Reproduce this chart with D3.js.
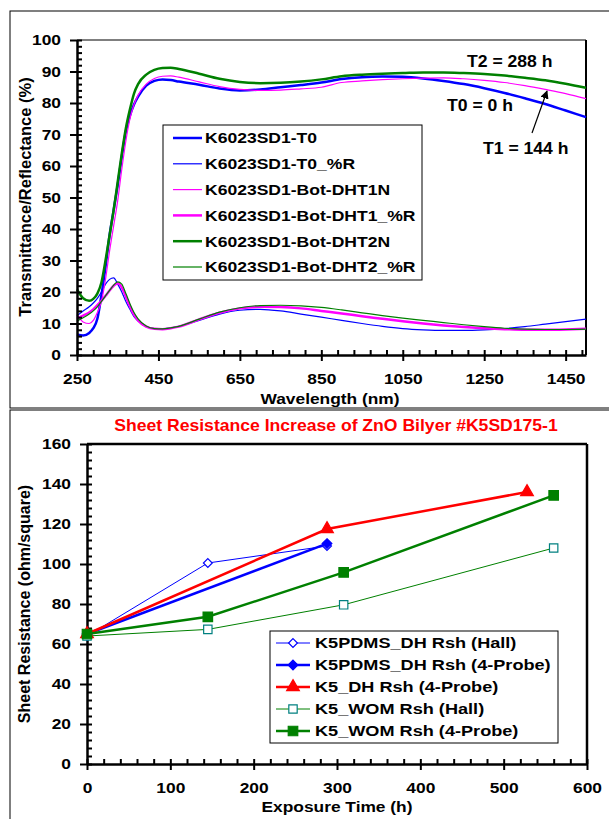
<!DOCTYPE html>
<html>
<head>
<meta charset="utf-8">
<script src="https://cdn.jsdelivr.net/npm/d3@7"></script>
<style>
  body { margin: 0; background: #fff; }
  text { font-family: "Liberation Sans", Arial, sans-serif; font-weight: bold; fill: #000; }
</style>
</head>
<body>
<div id="chart"></div>
<script>
// ---- top chart: spectra ----
const nm = [250, 265, 280, 290, 300, 310, 320, 330, 340, 350, 360, 370, 380, 390, 400, 420, 440, 460, 480, 500,
  550, 600, 650, 700, 750, 800, 850, 900, 950, 1000, 1050, 1100, 1150, 1200, 1250, 1300, 1350, 1400, 1450, 1500];
const t0T = [6.5, 6.2, 7, 8.5, 11.5, 19, 28, 38, 46, 54, 63, 71, 76, 79.5, 82, 85.5, 87, 87.5, 87.3, 86.8,
  85.8, 84.6, 84, 84.3, 85, 85.7, 86.5, 87.6, 88.2, 88.4, 88.3, 87.8, 87, 86, 84.7, 83.2, 81.5, 79.7, 77.6, 75.5];
const t0R = [12.5, 14, 15.3, 16.5, 18, 20, 22.5, 24, 24.5, 22.5, 20, 17, 14.5, 12.2, 10.8, 9, 8.4, 8.3, 8.6, 9.1,
  11, 13, 14.2, 14.5, 14, 13, 12, 11, 10, 9.1, 8.4, 8, 7.8, 7.8, 8, 8.4, 9, 9.8, 10.6, 11.4];
const dht1T = [12.8, 10.5, 10, 11, 13.5, 17, 24, 33, 41, 49, 59, 68, 75, 79.5, 82.5, 86, 87.8, 88.5, 88.6, 88.2,
  86.7, 85.2, 84.3, 84, 84.1, 84.5, 85, 86.5, 87, 87.4, 87.7, 87.9, 88, 87.7, 87.2, 86.5, 85.5, 84.3, 83, 81.4];
const dht1R = [11.5, 12.5, 13.5, 14.5, 15.8, 17.2, 18.8, 20.5, 22, 22.8, 21.5, 18.5, 15.5, 12.8, 11, 9, 8.3, 8.2, 8.5, 9,
  11.3, 13.4, 14.8, 15.3, 15.2, 14.8, 14, 13.2, 12.3, 11.5, 10.7, 10, 9.4, 8.9, 8.5, 8.2, 8, 8, 8.1, 8.3];
const dht2T = [20.8, 18, 17.2, 17.8, 19.5, 23, 30, 38, 46, 55, 64, 72, 78, 83, 86, 89, 90.5, 91.1, 91.2, 90.8,
  89.3, 87.7, 86.7, 86.3, 86.4, 86.8, 87.5, 88.5, 89, 89.3, 89.5, 89.7, 89.7, 89.5, 89.2, 88.7, 88, 87.2, 86.1, 84.8];
const dht2R = [10.8, 11.8, 13, 14, 15.3, 17, 18.8, 20.5, 22.2, 23.2, 22.5, 19.5, 16.3, 13.5, 11.5, 9.2, 8.4, 8.3, 8.6, 9.1,
  11.4, 13.6, 15, 15.7, 15.8, 15.6, 15.1, 14.3, 13.4, 12.5, 11.7, 11, 10.3, 9.6, 9, 8.5, 8.2, 8.1, 8.1, 8.2];
const specNames = ["K6023SD1-T0", "K6023SD1-T0_%R", "K6023SD1-Bot-DHT1N", "K6023SD1-Bot-DHT1_%R",
  "K6023SD1-Bot-DHT2N", "K6023SD1-Bot-DHT2_%R"];
const specValues = [t0T, t0R, dht1T, dht1R, dht2T, dht2R];
const specColors = ["#0000ff", "#0000ff", "#ff00ff", "#ff00ff", "#008000", "#008000"];
const specWidths = [2.5, 1.2, 1.2, 2.5, 2.5, 1.2];
const timeNotes = ["T2 = 288 h", "T0 = 0 h", "T1 = 144 h"];

// ---- bottom chart: sheet resistance ----
const rshNames = ["K5PDMS_DH Rsh (Hall)", "K5PDMS_DH Rsh (4-Probe)", "K5_DH Rsh (4-Probe)",
  "K5_WOM Rsh (Hall)", "K5_WOM Rsh (4-Probe)"];
const rshHours = [[0, 145, 288], [0, 288], [0, 288, 528], [0, 145, 308, 560], [0, 145, 308, 560]];
const rshValues = [[64, 100.5, 109], [65, 110.2], [65, 117.5, 136], [64, 67.3, 79.6, 108], [65, 73.6, 95.8, 134.3]];
const rshColors = ["#0000ff", "#0000ff", "#ff0000", "#008000", "#008000"];
const rshMarkStroke = ["#0000ff", "#0000ff", "#ff0000", "#008080", "#008000"];
const rshFill = ["#fff", "#0000ff", "#ff0000", "#fff", "#008000"];
const rshShapes = [d3.symbolDiamond2, d3.symbolDiamond2, d3.symbolTriangle, d3.symbolSquare, d3.symbolSquare];
const rshWidths = [1, 2.5, 2.5, 1, 2.5];
const rshTitle = "Sheet Resistance Increase of ZnO Bilyer #K5SD175-1";

const svg = d3.select("#chart").append("svg").attr("width", 609).attr("height", 819);

// stretch text horizontally like the source picture
const stretch = (sel, origin, k = 1.12) =>
  sel.style("transform-box", "fill-box").style("transform-origin", origin).style("transform", `scaleX(${k})`);

// frames
svg.append("rect").attr("x", 10).attr("y", 11).attr("width", 620).attr("height", 397)
  .attr("fill", "none").attr("stroke", "#000").attr("stroke-width", 1);
svg.append("rect").attr("x", 10).attr("y", 410).attr("width", 620).attr("height", 420)
  .attr("fill", "none").attr("stroke", "#000").attr("stroke-width", 1);

function drawAxes(g, x, y, xMajor, xMinor, yMajor, yMinor, fs) {
  const [xs] = x.range(), [ys] = y.range();
  // inward ticks (major + minor)
  g.append("g").attr("transform", `translate(0,${ys})`)
    .call(d3.axisBottom(x).tickValues(xMinor).tickSize(-5).tickFormat(""))
    .call(a => a.select(".domain").remove());
  g.append("g").attr("transform", `translate(${xs},0)`)
    .call(d3.axisLeft(y).tickValues(yMinor).tickSize(-5).tickFormat(""))
    .call(a => a.select(".domain").remove());
  // outward major ticks + labels
  const xa = g.append("g").attr("transform", `translate(0,${ys})`)
    .call(d3.axisBottom(x).tickValues(xMajor).tickFormat(d3.format("d"))
      .tickSize(6).tickSizeOuter(0).tickPadding(12));
  const ya = g.append("g").attr("transform", `translate(${xs},0)`)
    .call(d3.axisLeft(y).tickValues(yMajor).tickFormat(d3.format("d"))
      .tickSize(7).tickSizeOuter(0).tickPadding(9));
  [xa, ya].forEach(a => {
    a.select(".domain").attr("stroke", "#000").attr("stroke-width", 2.5);
    a.selectAll("text").attr("font-size", fs).attr("font-family", null);
  });
  g.selectAll(".tick line").attr("stroke", "#000").attr("stroke-width", 2);
  stretch(xa.selectAll("text"), "center");
  stretch(ya.selectAll("text"), "right center");
}

// ---------- top ----------
const x1 = d3.scaleLinear([250, 1500], [77, 586]);
const y1 = d3.scaleLinear([0, 100], [355, 40]);
const topG = svg.append("g");

topG.append("line").attr("x1", 77).attr("x2", 586).attr("y1", 40).attr("y2", 40)
  .attr("stroke", "#000").attr("stroke-width", 1.2);
topG.append("line").attr("x1", 586).attr("x2", 586).attr("y1", 40).attr("y2", 355)
  .attr("stroke", "#000").attr("stroke-width", 2);

const line1 = d3.line().x((d, i) => x1(nm[i])).y(d => y1(d)).curve(d3.curveMonotoneX);
topG.selectAll("path.spec").data(specValues).join("path").attr("class", "spec")
  .attr("d", line1).attr("fill", "none")
  .attr("stroke", (d, i) => specColors[i]).attr("stroke-width", (d, i) => specWidths[i]);

drawAxes(topG, x1, y1, d3.range(250, 1500, 200), d3.range(250, 1500, 40),
  d3.range(0, 101, 10), d3.range(0, 101, 2), 15.5);

topG.append("text").attr("x", 330).attr("y", 404).attr("text-anchor", "middle")
  .attr("font-size", 15.5).text("Wavelength (nm)").call(stretch, "center");
topG.append("text").attr("transform", "translate(31,197) rotate(-90)").attr("text-anchor", "middle")
  .attr("font-size", 16.5).text("Transmittance/Reflectance (%)");

// legend
const leg1 = topG.append("g");
leg1.append("rect").attr("x", 163).attr("y", 125).attr("width", 259).attr("height", 155)
  .attr("fill", "#fff").attr("stroke", "#000").attr("stroke-width", 1);
specNames.forEach((n, i) => {
  const yy = 138 + i * 25.8;
  leg1.append("line").attr("x1", 173).attr("x2", 202).attr("y1", yy).attr("y2", yy)
    .attr("stroke", specColors[i]).attr("stroke-width", specWidths[i]);
  leg1.append("text").attr("x", 205).attr("y", yy + 5.5).attr("font-size", 15).text(n)
    .call(stretch, "left center", 1.17);
});

// notes
const notePos = [[467, 67], [447, 111], [483, 154]];
timeNotes.forEach((t, i) => {
  topG.append("text").attr("x", notePos[i][0]).attr("y", notePos[i][1]).attr("font-size", 16)
    .text(t).call(stretch, "left center", 1.1);
});
svg.append("defs").append("marker").attr("id", "arr").attr("viewBox", "0 0 10 10")
  .attr("refX", 9).attr("refY", 5).attr("markerWidth", 7).attr("markerHeight", 7).attr("orient", "auto")
  .append("path").attr("d", "M0,0L10,5L0,10z").attr("fill", "#000");
topG.append("line").attr("x1", 532).attr("y1", 133).attr("x2", 547).attr("y2", 91)
  .attr("stroke", "#000").attr("stroke-width", 1.2).attr("marker-end", "url(#arr)");

// ---------- bottom ----------
const x2 = d3.scaleLinear([0, 600], [87, 587]);
const y2 = d3.scaleLinear([0, 160], [764, 444]);
const botG = svg.append("g");

botG.append("line").attr("x1", 87).attr("x2", 587).attr("y1", 444).attr("y2", 444)
  .attr("stroke", "#000").attr("stroke-width", 2.5);
botG.append("line").attr("x1", 587).attr("x2", 587).attr("y1", 444).attr("y2", 764)
  .attr("stroke", "#000").attr("stroke-width", 2.5);

drawAxes(botG, x2, y2, d3.range(0, 601, 100), d3.range(0, 601, 20),
  d3.range(0, 161, 20), d3.range(0, 161, 4), 15.5);

botG.append("text").attr("x", 336).attr("y", 431).attr("text-anchor", "middle").attr("font-size", 16)
  .style("fill", "#ff0000").text(rshTitle).call(stretch, "center", 1.1);
botG.append("text").attr("x", 337).attr("y", 812).attr("text-anchor", "middle")
  .attr("font-size", 15.5).text("Exposure Time (h)").call(stretch, "center");
botG.append("text").attr("transform", "translate(30,604) rotate(-90)").attr("text-anchor", "middle")
  .attr("font-size", 16).text("Sheet Resistance (ohm/square)");

const sym = (i, s) => d3.symbol().type(rshShapes[i]).size(s)();
const symSize = [50, 60, 70, 70, 90];

rshNames.forEach((n, i) => {
  const pts = rshHours[i].map((h, j) => [h, rshValues[i][j]]);
  botG.append("path").datum(pts)
    .attr("d", d3.line().x(d => x2(d[0])).y(d => y2(d[1])))
    .attr("fill", "none").attr("stroke", rshColors[i]).attr("stroke-width", rshWidths[i]);
});
rshNames.forEach((n, i) => {
  const pts = rshHours[i].map((h, j) => [h, rshValues[i][j]]);
  botG.selectAll(null).data(pts).join("path")
    .attr("transform", d => `translate(${x2(d[0])},${y2(d[1])})`)
    .attr("d", sym(i, symSize[i])).attr("fill", rshFill[i])
    .attr("stroke", rshMarkStroke[i]).attr("stroke-width", 1.2);
});

// legend
const leg2 = botG.append("g");
leg2.append("rect").attr("x", 270).attr("y", 631).attr("width", 288).attr("height", 112)
  .attr("fill", "#fff").attr("stroke", "#000").attr("stroke-width", 1);
rshNames.forEach((n, i) => {
  const yy = 643 + i * 22;
  leg2.append("line").attr("x1", 276).attr("x2", 310).attr("y1", yy).attr("y2", yy)
    .attr("stroke", rshColors[i]).attr("stroke-width", rshWidths[i]);
  leg2.append("path").attr("transform", `translate(293,${yy})`).attr("d", sym(i, symSize[i]))
    .attr("fill", rshFill[i]).attr("stroke", rshMarkStroke[i]).attr("stroke-width", 1.2);
  leg2.append("text").attr("x", 315).attr("y", yy + 5.5).attr("font-size", 15.5).text(n)
    .call(stretch, "left center", 1.17);
});
</script>
</body>
</html>
